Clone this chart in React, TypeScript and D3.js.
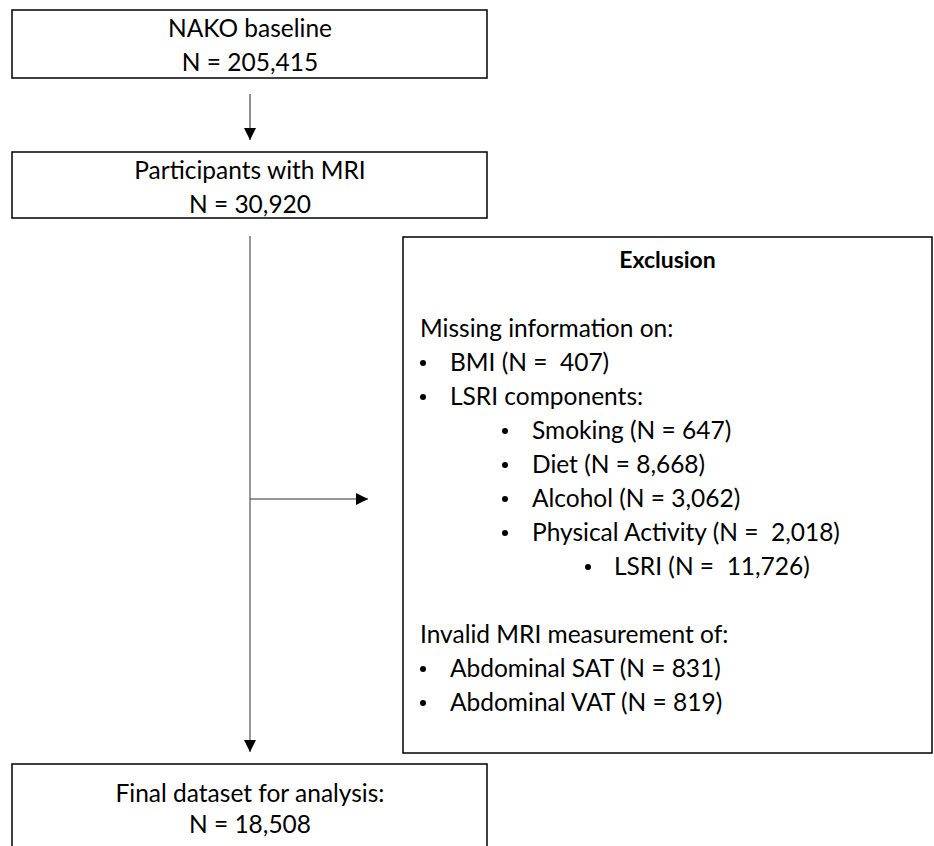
import React from "react";
import * as d3 from "d3";

const mainSteps = ["NAKO baseline", "Participants with MRI", "Final dataset for analysis:"];
const mainCounts = ["N = 205,415", "N = 30,920", "N = 18,508"];
const exclusionTitle = "Exclusion";
const exclusionLines: [string, number, boolean][] = [
  ["Missing information on:", 0, false],
  ["BMI (N =  407)", 1, true],
  ["LSRI components:", 1, true],
  ["Smoking (N = 647)", 2, true],
  ["Diet (N = 8,668)", 2, true],
  ["Alcohol (N = 3,062)", 2, true],
  ["Physical Activity (N =  2,018)", 2, true],
  ["LSRI (N =  11,726)", 3, true],
  ["", 0, false],
  ["Invalid MRI measurement of:", 0, false],
  ["Abdominal SAT (N = 831)", 1, true],
  ["Abdominal VAT (N = 819)", 1, true],
];

const FONT = "Lato, 'Open Sans', sans-serif";

export default function App() {
  const W = 934, H = 846;
  const boxes = [
    { x: 12, y: 10, w: 475, h: 68 },
    { x: 12, y: 152, w: 475, h: 66 },
    { x: 12, y: 764, w: 475, h: 100 },
  ];
  const ex = { x: 403, y: 237, w: 529, h: 516 };
  const lineY = d3.scaleLinear().domain([0, 1]).range([328, 362]);
  const bulletX = [0, 423, 505, 588];
  const textX = [420, 450, 532, 614];
  const fs = 24.5;
  const cx = 250;
  return (
    <svg width={W} height={H} style={{ position: "absolute", left: 0, top: 0 }}>
      <defs>
        <marker id="ah" viewBox="0 0 10 10" refX="10" refY="5" markerWidth="12" markerHeight="12" markerUnits="userSpaceOnUse" orient="auto">
          <path d="M0,0 L10,5 L0,10 z" fill="#000" />
        </marker>
      </defs>
      <rect width={W} height={H} fill="#fff" />
      {boxes.map((b, i) => (
        <g key={i}>
          <rect x={b.x} y={b.y} width={b.w} height={b.h} fill="none" stroke="#000" strokeWidth={1.5} />
          <text x={cx} y={i === 2 ? 793 : b.y + 18} dy="0.35em" textAnchor="middle" fontFamily={FONT} fontSize={fs}>{mainSteps[i]}</text>
          <text x={cx} y={i === 2 ? 824 : b.y + 52} dy="0.35em" textAnchor="middle" fontFamily={FONT} fontSize={fs}>{mainCounts[i]}</text>
        </g>
      ))}
      <line x1={cx} y1={94} x2={cx} y2={140} stroke="#444" strokeWidth={1.2} markerEnd="url(#ah)" />
      <line x1={cx} y1={236} x2={cx} y2={752} stroke="#555" strokeWidth={1.2} markerEnd="url(#ah)" />
      <line x1={cx} y1={499} x2={368} y2={499} stroke="#333" strokeWidth={1.2} markerEnd="url(#ah)" />
      <rect x={ex.x} y={ex.y} width={ex.w} height={ex.h} fill="none" stroke="#000" strokeWidth={1.5} />
      <text x={ex.x + ex.w / 2} y={260} dy="0.35em" textAnchor="middle" fontFamily={FONT} fontSize={fs - 1.5} fontWeight="bold">{exclusionTitle}</text>
      {exclusionLines.map(([t, lvl, bullet], i) => (
        <g key={i}>
          {bullet && <circle cx={bulletX[lvl]} cy={lineY(i) + 1} r={3} fill="#000" />}
          <text x={textX[lvl]} y={lineY(i)} dy="0.35em" fontFamily={FONT} fontSize={fs} style={{ whiteSpace: "pre" }}>{t}</text>
        </g>
      ))}
    </svg>
  );
}
